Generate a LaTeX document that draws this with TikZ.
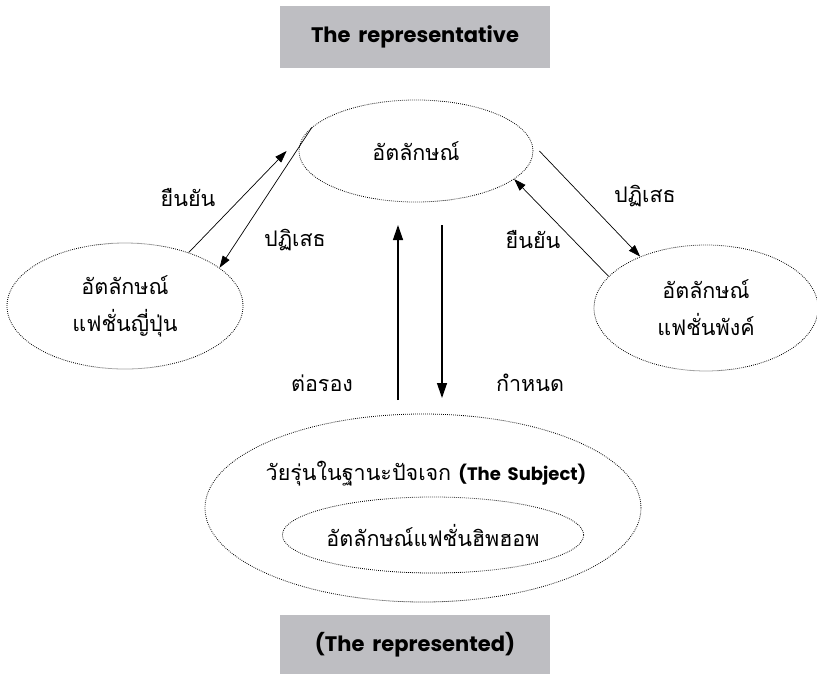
\documentclass[tikz,border=0pt]{standalone}
\usepackage{fontspec}
\setmainfont{Poppins}
\newfontfamily\thaifont[Script=Thai]{Loma}
\usetikzlibrary{shapes.geometric,arrows.meta}

\definecolor{boxgray}{RGB}{190,190,194}

\tikzset{
  idbubble/.style={ellipse,draw,line width=0.8pt,dash pattern=on 0.8pt off 1.2pt,
    inner sep=0pt,align=center,font=\thaifont\fontsize{21.5}{37}\selectfont},
  verb/.style={font=\thaifont\fontsize{21.5}{26}\selectfont},
  titlebox/.style={fill=boxgray,minimum width=270,minimum height=62,
    font=\bfseries\fontsize{21}{25}\selectfont},
  thinarrow/.style={-{Triangle[length=12pt,width=8pt]},line width=0.7pt},
  bigarrow/.style={-{Triangle[length=15pt,width=10pt]},line width=1.3pt},
}

\begin{document}
\begin{tikzpicture}[x=1pt,y=-1pt]
      \useasboundingbox (0,0) rectangle (817,674);
      \node[titlebox] (rep)  at (415,37)  {The\, representative};
      \node[titlebox,minimum height=60] (repd) at (415,645) {(The\, represented)};
      % ellipses
      \node[idbubble,minimum width=234,minimum height=102] (ident) at (416,151) {อัตลักษณ์};
      \node[idbubble,minimum width=236,minimum height=126] (japan) at (125,306) {อัตลักษณ์\\แฟชั่นญี่ปุ่น};
      \node[idbubble,minimum width=224,minimum height=126] (punk)  at (706,308) {อัตลักษณ์\\แฟชั่นพังค์};
      \node[idbubble,minimum width=436,minimum height=188] (subj)  at (423,508) {};
      \node[verb] (subjtxt) at (426,474) {วัยรุ่นในฐานะปัจเจก {\rmfamily\bfseries\fontsize{18}{22}\selectfont (The\, Subject)}};
      \node[idbubble,minimum width=298,minimum height=76] (hiphop) at (433,535) {อัตลักษณ์แฟชั่นฮิพฮอพ};
      % left pair
      \draw[thinarrow] (japan.40) -- ([xshift=-12]ident.west);
      \draw[thinarrow] (ident.167) -- (japan.22);
      % right pair
      \draw[thinarrow] ([xshift=6]ident.east) -- (punk.142);
      \draw[thinarrow] (punk.162) -- (ident.-16);
      % vertical pair
      \coordinate (upfoot) at (398,400);
      \coordinate (uptip)  at (398,225);
      \coordinate (dnfoot) at (442,225);
      \coordinate (dntip)  at (442,398);
      \draw[bigarrow] (upfoot) -- (uptip);
      \draw[bigarrow] (dnfoot) -- (dntip);
      % labels
      \node[verb] (l1) at (188,198) {ยืนยัน};
      \node[verb] (l2) at (295,240) {ปฏิเสธ};
      \node[verb] (l3) at (645,196) {ปฏิเสธ};
      \node[verb] (l4) at (533,240) {ยืนยัน};
      \node[verb] (l5) at (322,383) {ต่อรอง};
      \node[verb] (l6) at (530,383) {กำหนด};
    \end{tikzpicture}
\end{document}
